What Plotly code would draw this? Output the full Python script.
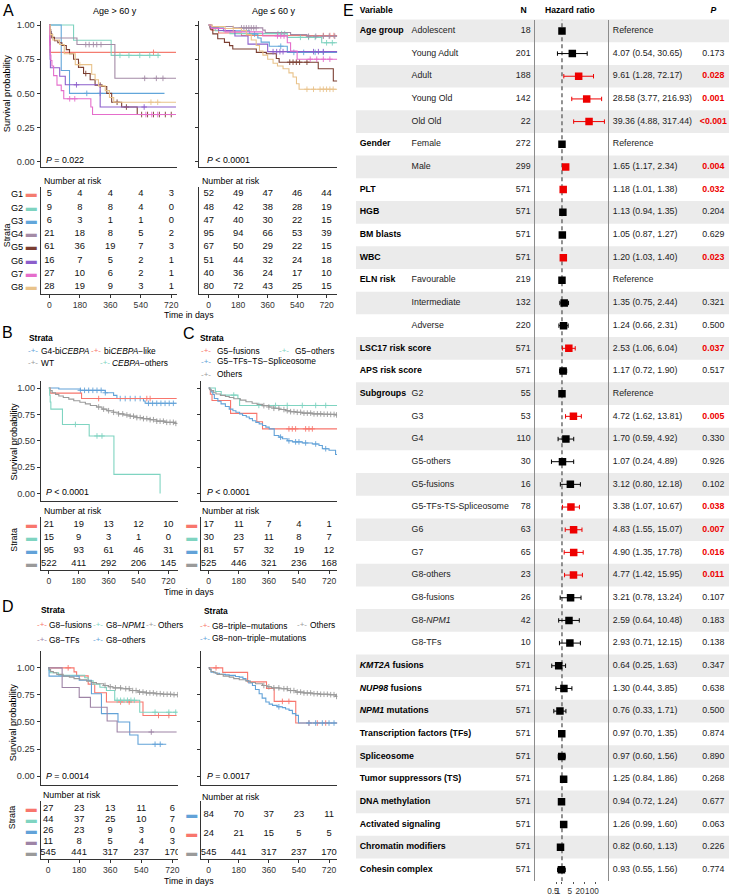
import plotly.graph_objects as go

W, H = 731, 896
FONT = "Liberation Sans, Arial, Helvetica, sans-serif"

# ======================= DATA =======================
DAYS = [0, 180, 360, 540, 720]

# ---- Panel A, Age > 60 y : step times (days), survival after step, end of follow-up, censor times
A_old = {
    "G1": dict(t=[5], s=[0.80], end=748, cens=[615]),
    "G2": dict(t=[143, 365], s=[0.889, 0.778], end=652, cens=[417, 470, 534, 593, 642]),
    "G3": dict(t=[70, 119], s=[0.667, 0.50], end=680, cens=[221, 300]),
    "G4": dict(t=[5, 12, 163, 387], s=[0.952, 0.905, 0.857, 0.61], end=748,
               cens=[215, 235, 260, 280, 305, 563, 632, 671]),
    "G5": dict(t=[3, 8, 16, 30, 50, 74, 100, 119, 143, 172, 202, 241, 270, 309, 339, 368, 427, 519],
               s=[0.967, 0.934, 0.91, 0.885, 0.87, 0.85, 0.82, 0.79, 0.75, 0.69, 0.645, 0.60, 0.56, 0.55,
                  0.50, 0.435, 0.40, 0.345], end=748,
               cens=[215, 300, 400, 455, 545, 580, 615, 650, 685, 720]),
    "G6": dict(t=[2, 4, 6, 61, 94, 300], s=[0.875, 0.75, 0.6875, 0.625, 0.5625, 0.40], end=748,
               cens=[160, 560]),
    "G7": dict(t=[2, 5, 9, 15, 25, 45, 70, 85, 245, 255],
               s=[0.85, 0.78, 0.74, 0.70, 0.63, 0.56, 0.52, 0.46, 0.40, 0.345], end=748,
               cens=[120, 150, 570, 605, 640]),
    "G8": dict(t=[5, 20, 60, 88, 153, 250, 270, 290, 330, 355, 380],
               s=[0.93, 0.89, 0.857, 0.79, 0.71, 0.64, 0.60, 0.555, 0.52, 0.47, 0.435], end=748,
               cens=[180, 600, 640]),
}
A_old_risk = {"G1": [5, 4, 4, 4, 3], "G2": [9, 8, 8, 4, 0], "G3": [6, 3, 1, 1, 0], "G4": [21, 18, 8, 5, 2],
              "G5": [61, 36, 19, 7, 3], "G6": [16, 7, 5, 2, 1], "G7": [27, 10, 6, 2, 1], "G8": [28, 19, 9, 3, 1]}

# ---- Panel A, Age <= 60 y
A_young = {
    "G1": dict(t=[5, 15, 60, 200], s=[0.981, 0.962, 0.942, 0.923], end=790, cens=[700, 740, 765]),
    "G2": dict(t=[8, 40, 130, 480, 690], s=[0.979, 0.958, 0.937, 0.91, 0.87], end=790,
               cens=[423, 445, 464, 560, 610, 650, 720, 755]),
    "G3": dict(t=[15, 90, 250, 300, 320, 370, 480], s=[0.979, 0.957, 0.934, 0.905, 0.875, 0.845, 0.80],
               end=790, cens=[280, 440, 520, 580, 650, 700]),
    "G4": dict(t=[20, 150, 330, 345, 500, 600], s=[0.989, 0.979, 0.963, 0.945, 0.93, 0.918], end=790,
               cens=[200, 215, 230, 245, 260, 275, 290, 610, 654, 700, 736, 770]),
    "G5": dict(t=[10, 25, 55, 96, 127, 147, 291, 352, 413, 430, 669, 761],
               s=[0.97, 0.935, 0.90, 0.873, 0.849, 0.825, 0.80, 0.79, 0.755, 0.728, 0.68, 0.59], end=790,
               cens=[495, 515, 535, 555, 600]),
    "G6": dict(t=[10, 60, 160, 240, 360], s=[0.98, 0.96, 0.92, 0.86, 0.805], end=790,
               cens=[393, 415, 435, 454, 640, 670, 700]),
    "G7": dict(t=[15, 100, 330, 480, 500, 540], s=[0.975, 0.95, 0.92, 0.87, 0.81, 0.75], end=790,
               cens=[420, 440, 460, 620, 660, 700, 740]),
    "G8": dict(t=[20, 100, 200, 230, 260, 290, 310, 331, 360, 393, 420, 454, 490, 515, 536, 552],
               s=[0.988, 0.975, 0.96, 0.93, 0.89, 0.85, 0.81, 0.78, 0.75, 0.72, 0.70, 0.68, 0.65, 0.62,
                  0.57, 0.53], end=790, cens=[150, 600, 640, 680, 700, 720, 740, 760]),
}
A_young_risk = {"G1": [52, 49, 47, 46, 44], "G2": [48, 42, 38, 28, 19], "G3": [47, 40, 30, 22, 15],
                "G4": [95, 94, 66, 53, 39], "G5": [67, 50, 29, 22, 15], "G6": [51, 44, 32, 24, 18],
                "G7": [40, 36, 24, 17, 10], "G8": [80, 72, 43, 25, 15]}

# ---- Panel B (CEBPA strata)
B_km = {
    "G4-biCEBPA": dict(t=[60, 190, 340, 390, 410, 570, 580], s=[0.99, 0.978, 0.955, 0.93, 0.90, 0.877, 0.855],
                       end=770, cens=[190, 215, 240, 265, 290, 315, 340, 430, 460, 490, 520, 550, 600, 625,
                                      650, 675, 700, 725, 750]),
    "biCEBPA-like": dict(t=[8, 197], s=[0.952, 0.90], end=770, cens=[300, 590, 610]),
    "WT": dict(t=[6, 20, 40, 60, 87, 120, 150, 187, 220, 250, 288, 320, 350, 388, 420, 450, 489, 530, 569,
                  610, 650, 700, 760],
               s=[0.975, 0.955, 0.94, 0.925, 0.91, 0.895, 0.88, 0.865, 0.85, 0.835, 0.82, 0.80, 0.785, 0.77,
                  0.755, 0.745, 0.733, 0.72, 0.71, 0.70, 0.686, 0.675, 0.665], end=770,
               cens=[300, 330, 360, 390, 420, 445, 470, 490, 510, 530, 550, 570, 590, 610, 630, 650, 670,
                     690, 710, 730, 750, 765]),
    "CEBPA-others": dict(t=[5, 8, 12, 82, 243, 392, 670], s=[0.933, 0.867, 0.80, 0.655, 0.546, 0.182, 0.0],
                         end=670, cens=[160, 290, 320]),
}
B_risk_order = ["biCEBPA-like", "CEBPA-others", "G4-biCEBPA", "WT"]
B_risk = {"biCEBPA-like": [21, 19, 13, 12, 10], "CEBPA-others": [15, 9, 3, 1, 0],
          "G4-biCEBPA": [95, 93, 61, 46, 31], "WT": [522, 411, 292, 206, 145]}

# ---- Panel C (G5 strata)
C_km = {
    "G5-fusions": dict(t=[10, 20, 131, 288, 322], s=[0.941, 0.882, 0.76, 0.68, 0.613], end=768,
                       cens=[480, 500, 520, 580, 600, 620]),
    "G5-others": dict(t=[40, 75, 175, 185], s=[0.967, 0.933, 0.90, 0.835], end=768,
                      cens=[150, 300, 400, 470, 560, 640, 700]),
    "G5-TFs-TS-Spliceosome": dict(
        t=[5, 14, 25, 34, 55, 74, 100, 123, 145, 163, 185, 203, 225, 243, 262, 282, 302, 322, 342, 362,
           392, 420, 441, 470, 501, 560, 620, 660, 680, 720, 759],
        s=[0.988, 0.963, 0.938, 0.90, 0.875, 0.85, 0.825, 0.80, 0.785, 0.77, 0.755, 0.74, 0.725, 0.71, 0.69,
           0.675, 0.66, 0.645, 0.63, 0.613, 0.55, 0.535, 0.52, 0.50, 0.49, 0.48, 0.47, 0.456, 0.425, 0.41,
           0.37], end=768, cens=[430, 480, 520, 540, 580, 640, 700]),
    "Others": dict(t=[5, 14, 30, 44, 70, 100, 123, 150, 190, 223, 260, 290, 322, 360, 390, 421, 460, 490,
                      521, 560, 620, 680, 720, 760],
                   s=[0.985, 0.975, 0.955, 0.943, 0.93, 0.92, 0.91, 0.898, 0.885, 0.87, 0.855, 0.845, 0.833,
                      0.82, 0.808, 0.796, 0.785, 0.776, 0.77, 0.762, 0.755, 0.752, 0.75, 0.745], end=768,
                   cens=[330, 360, 390, 420, 450, 470, 490, 510, 530, 550, 570, 590, 610, 630, 650, 670,
                         690, 710, 730, 750, 765]),
}
C_risk_order = ["G5-fusions", "G5-others", "G5-TFs-TS-Spliceosome", "Others"]
C_risk = {"G5-fusions": [17, 11, 7, 4, 1], "G5-others": [30, 23, 11, 8, 7],
          "G5-TFs-TS-Spliceosome": [81, 57, 32, 19, 12], "Others": [525, 446, 321, 236, 168]}

# ---- Panel D (G8 strata) – "Others" is the same group in both plots
D_others = dict(t=[5, 14, 30, 50, 87, 123, 150, 183, 223, 250, 280, 322, 350, 376, 421, 473, 521, 569, 620,
                   666, 720, 760],
                s=[0.985, 0.966, 0.955, 0.94, 0.923, 0.914, 0.90, 0.89, 0.877, 0.865, 0.853, 0.837, 0.825,
                   0.815, 0.807, 0.79, 0.776, 0.768, 0.761, 0.756, 0.752, 0.736], end=770,
                cens=[330, 360, 390, 420, 450, 470, 490, 510, 530, 550, 570, 590, 610, 630, 650, 670, 690,
                      710, 730, 750, 765])
D1_km = {
    "G8-fusions": dict(t=[150, 165, 232, 270, 338, 550], s=[0.963, 0.926, 0.85, 0.77, 0.685, 0.56], end=745,
                       cens=[116, 420, 470, 640, 700]),
    "G8-NPM1": dict(t=[5, 10, 60, 212, 232, 261, 300, 338, 386, 531],
                    s=[0.977, 0.955, 0.932, 0.909, 0.88, 0.85, 0.82, 0.79, 0.70, 0.59], end=745,
                    cens=[400, 420, 440, 460, 480, 500, 620, 700, 740]),
    "G8-others": dict(t=[5, 180, 251, 309, 405, 473, 521], s=[0.923, 0.885, 0.76, 0.577, 0.50, 0.38, 0.294],
                      end=685, cens=[620, 650]),
    "G8-TFs": dict(t=[81, 180, 245, 342, 400], s=[0.818, 0.727, 0.636, 0.509, 0.407], end=745, cens=[598]),
    "Others": D_others,
}
D1_risk_order = ["G8-fusions", "G8-NPM1", "G8-others", "G8-TFs", "Others"]
D1_risk = {"G8-fusions": [27, 23, 13, 11, 6], "G8-NPM1": [44, 37, 25, 10, 7], "G8-others": [26, 23, 9, 3, 0],
           "G8-TFs": [11, 8, 5, 4, 3], "Others": [545, 441, 317, 237, 170]}

D2_km = {
    "G8-triple-mutations": dict(t=[84, 233, 346, 392, 521], s=[0.958, 0.87, 0.81, 0.69, 0.49], end=770,
                                cens=[44, 441, 480, 600, 650, 700]),
    "G8-non-triple-mutations": dict(
        t=[5, 14, 40, 64, 100, 123, 160, 183, 205, 223, 240, 262, 280, 302, 320, 342, 362, 382, 410, 441,
           460, 481, 501, 521, 537],
        s=[0.988, 0.96, 0.95, 0.94, 0.935, 0.93, 0.92, 0.914, 0.90, 0.883, 0.86, 0.837, 0.80, 0.76, 0.72,
           0.684, 0.665, 0.653, 0.64, 0.632, 0.62, 0.607, 0.577, 0.561, 0.49], end=770,
        cens=[420, 600, 640, 680, 720, 750]),
    "Others": D_others,
}
D2_risk_order = ["G8-non-triple-mutations", "G8-triple-mutations", "Others"]
D2_risk = {"G8-non-triple-mutations": [84, 70, 37, 23, 11], "G8-triple-mutations": [24, 21, 15, 5, 5],
           "Others": [545, 441, 317, 237, 170]}

P_VALUES = {"A1": "= 0.022", "A2": "&lt; 0.0001", "B": "&lt; 0.0001", "C": "&lt; 0.0001",
            "D1": "= 0.0014", "D2": "= 0.0017"}

# ---- Panel E: multivariable Cox model (forest plot)
fp_var = ["Age group", "", "", "", "", "Gender", "", "PLT", "HGB", "BM blasts", "WBC", "ELN risk", "", "",
          "LSC17 risk score", "APS risk score", "Subgroups", "", "", "", "", "", "", "", "", "", "", "",
          "<i>KMT2A</i> fusions", "<i>NUP98</i> fusions", "<i>NPM1</i> mutations",
          "Transcription factors (TFs)", "Spliceosome", "Tumor suppressors (TS)", "DNA methylation",
          "Activated signaling", "Chromatin modifiers", "Cohesin complex"]
fp_level = ["Adolescent", "Young Adult", "Adult", "Young Old", "Old Old", "Female", "Male", "", "", "", "",
            "Favourable", "Intermediate", "Adverse", "", "", "G2", "G3", "G4", "G5-others", "G5-fusions",
            "G5-TFs-TS-Spliceosome", "G6", "G7", "G8-others", "G8-fusions", "G8-<i>NPM1</i>", "G8-TFs",
            "", "", "", "", "", "", "", "", "", ""]
fp_n = [18, 201, 188, 142, 22, 272, 299, 571, 571, 571, 571, 219, 132, 220, 571, 571, 55, 53, 110, 30, 16,
        78, 63, 65, 23, 26, 42, 10, 571, 571, 571, 571, 571, 571, 571, 571, 571, 571]
fp_hr = [None, 4.07, 9.61, 28.58, 39.36, None, 1.65, 1.18, 1.13, 1.05, 1.20, None, 1.35, 1.24, 2.53, 1.17,
         None, 4.72, 1.70, 1.07, 3.12, 3.38, 4.83, 4.90, 4.77, 3.21, 2.59, 2.93, 0.64, 1.30, 0.76, 0.97,
         0.97, 1.25, 0.94, 1.26, 0.82, 0.93]
fp_lo = [None, 0.54, 1.28, 3.77, 4.88, None, 1.17, 1.01, 0.94, 0.87, 1.03, None, 0.75, 0.66, 1.06, 0.72,
         None, 1.62, 0.59, 0.24, 0.80, 1.07, 1.55, 1.35, 1.42, 0.78, 0.64, 0.71, 0.25, 0.44, 0.33, 0.70,
         0.60, 0.84, 0.72, 0.99, 0.60, 0.55]
fp_hi = [None, 30.65, 72.17, 216.93, 317.44, None, 2.34, 1.38, 1.35, 1.27, 1.40, None, 2.44, 2.31, 6.04,
         1.90, None, 13.81, 4.92, 4.89, 12.18, 10.67, 15.07, 17.78, 15.95, 13.24, 10.48, 12.15, 1.63, 3.85,
         1.71, 1.35, 1.56, 1.86, 1.24, 1.60, 1.13, 1.56]
fp_p = [None, "0.173", "0.028", "0.001", "<0.001", None, "0.004", "0.032", "0.204", "0.629", "0.023", None,
        "0.321", "0.500", "0.037", "0.517", None, "0.005", "0.330", "0.926", "0.102", "0.038", "0.007",
        "0.016", "0.011", "0.107", "0.183", "0.138", "0.347", "0.638", "0.500", "0.874", "0.890", "0.268",
        "0.677", "0.063", "0.226", "0.774"]
HR_TICKS = [0.5, 1, 5, 20, 100]

# ======================= STYLE =======================
COL_A = {"G1": "#F47C70", "G2": "#7FD3C0", "G3": "#62A6DA", "G4": "#A48BA6", "G5": "#7B3E31",
         "G6": "#8C5ECB", "G7": "#E56DCB", "G8": "#E9C38B"}
RED, TEAL, BLUE, GREY, MAUVE = "#F8766D", "#7FD4C1", "#62A2D8", "#9A9A9A", "#9E84A6"
COL_B = {"G4-biCEBPA": BLUE, "biCEBPA-like": RED, "WT": GREY, "CEBPA-others": TEAL}
COL_C = {"G5-fusions": RED, "G5-others": TEAL, "G5-TFs-TS-Spliceosome": BLUE, "Others": GREY}
COL_D1 = {"G8-fusions": RED, "G8-NPM1": TEAL, "G8-others": BLUE, "G8-TFs": MAUVE, "Others": GREY}
COL_D2 = {"G8-triple-mutations": RED, "G8-non-triple-mutations": BLUE, "Others": GREY}
SIG_RED = "#EE0000"
AXC = "#333333"
LEG = 8.4

fig = go.Figure()
layout = dict(width=W, height=H, margin=dict(l=0, r=0, t=0, b=0), paper_bgcolor="white",
              plot_bgcolor="rgba(0,0,0,0)", font=dict(family=FONT, size=9, color="black"),
              showlegend=False)
annotations = []


def xd(a, b):
    return [a / W, b / W]


def yd(top, bottom):
    return [1 - bottom / H, 1 - top / H]


def aname(n, k):
    return f"{k}axis" if n == 1 else f"{k}axis{n}"


def aref(n, k):
    return k if n == 1 else f"{k}{n}"


def ann(text, x, y, size=8.8, xanchor="left", color="black", angle=0, yanchor="middle"):
    annotations.append(dict(text=text, x=x / W, y=1 - y / H, xref="paper", yref="paper", showarrow=False,
                            xanchor=xanchor, yanchor=yanchor, textangle=angle,
                            font=dict(size=size, color=color, family=FONT), borderpad=0))


def step_value(t, s, c):
    v = 1.0
    for ti, si in zip(t, s):
        if ti <= c:
            v = si
    return v


def km_plot(n, data, colors, xdom, ydom, xr, yr, ylabels):
    layout[aname(n, "x")] = dict(domain=xd(*xdom), range=list(xr), anchor=aref(n, "y"), showline=True,
                                 linecolor=AXC, linewidth=1, ticks="", showticklabels=False,
                                 showgrid=False, zeroline=False)
    layout[aname(n, "y")] = dict(domain=yd(*ydom), range=list(yr), anchor=aref(n, "x"), showline=True,
                                 linecolor=AXC, linewidth=1, ticks="outside", ticklen=3, tickcolor=AXC,
                                 tickvals=[0, 0.25, 0.5, 0.75, 1.0],
                                 ticktext=["0.00", "0.25", "0.50", "0.75", "1.00"],
                                 showticklabels=ylabels, tickfont=dict(size=9.2, color=AXC),
                                 showgrid=False, zeroline=False)
    for g, d in data.items():
        x = [0] + d["t"] + [d["end"]]
        y = [1] + d["s"] + [d["s"][-1]]
        fig.add_trace(go.Scatter(x=x, y=y, mode="lines", line=dict(color=colors[g], width=1.1, shape="hv"),
                                 xaxis=aref(n, "x"), yaxis=aref(n, "y"), hoverinfo="skip"))
        cy = [step_value(d["t"], d["s"], c) for c in d["cens"]]
        fig.add_trace(go.Scatter(x=d["cens"], y=cy, mode="markers",
                                 marker=dict(symbol="cross-thin", size=4,
                                             line=dict(color=colors[g], width=0.9)),
                                 xaxis=aref(n, "x"), yaxis=aref(n, "y"), hoverinfo="skip"))


def risk_table(n, order, risk, colors, xdom, ydom, row0, sp, xr, labels):
    top = (ydom[0] - row0) / sp
    bot = (ydom[1] - row0) / sp
    rows = list(range(len(order)))
    if labels:
        tt = [f"{g} <span style='color:{colors[g]};font-size:11px'>▬</span>" for g in order]
    else:
        tt = [f"<span style='color:{colors[g]};font-size:11px'>▬</span>" for g in order]
    layout[aname(n, "x")] = dict(domain=xd(*xdom), range=list(xr), anchor=aref(n, "y"), showline=True,
                                 linecolor=AXC, linewidth=1, ticks="outside", ticklen=3, tickcolor=AXC,
                                 tickvals=DAYS, tickfont=dict(size=8.6, color=AXC), showgrid=False,
                                 zeroline=False)
    layout[aname(n, "y")] = dict(domain=yd(*ydom), range=[bot, top], anchor=aref(n, "x"), showline=True,
                                 linecolor=AXC, linewidth=1, ticks="", tickvals=rows, ticktext=tt,
                                 tickfont=dict(size=9.2, color="black"), showgrid=False, zeroline=False,
                                 ticklabelstandoff=1)
    for i, g in enumerate(order):
        fig.add_trace(go.Scatter(x=DAYS, y=[i] * len(DAYS), mode="text", text=[str(v) for v in risk[g]],
                                 textfont=dict(size=9.4, color="#111111", family=FONT),
                                 xaxis=aref(n, "x"), yaxis=aref(n, "y"), hoverinfo="skip"))


# ---------------- Panel A ----------------
A1 = dict(xdom=(40.7, 177.5), xr=(-51.9, 754))
A2 = dict(xdom=(200, 338), xr=(-56.6, 784))
A_ydom, A_yr = (20, 166.7), (-0.04, 1.03)
km_plot(1, A_old, COL_A, A1["xdom"], A_ydom, A1["xr"], A_yr, True)
km_plot(2, A_young, COL_A, A2["xdom"], A_ydom, A2["xr"], A_yr, False)
A_order = list(A_old_risk.keys())
risk_table(3, A_order, A_old_risk, COL_A, A1["xdom"], (187, 294), 193.7, 13.29, A1["xr"], True)
risk_table(4, A_order, A_young_risk, COL_A, A2["xdom"], (187, 294), 193.7, 13.29, A2["xr"], False)
layout["yaxis4"]["showticklabels"] = False

ann("A", 2.5, 10, size=16)
ann("Age &gt; 60 y", 115, 10, size=9, xanchor="center")
ann("Age ≤ 60 y", 274, 10, size=9, xanchor="center")
ann("Survival probability", 7, 92.5, size=9.2, xanchor="center", angle=-90)
ann(f"<i>P</i> {P_VALUES['A1']}", 45, 159.5, size=8.8)
ann(f"<i>P</i> {P_VALUES['A2']}", 206.5, 159.5, size=8.8)
ann("Number at risk", 43, 181, size=8.8)
ann("Number at risk", 201.7, 181, size=8.8)
ann("Strata", 7, 235, size=8.8, xanchor="center", angle=-90)
ann("Time in days", 190, 315, size=8.8, xanchor="center")

# ---------------- Panels B and C ----------------
BC_ydom, BC_yr = (381, 501.7), (-0.07, 1.069)
Bp = dict(xdom=(41, 178), xr=(-48, 775))
Cp = dict(xdom=(201.7, 338), xr=(-45, 768))
km_plot(5, B_km, COL_B, Bp["xdom"], BC_ydom, Bp["xr"], BC_yr, True)
km_plot(6, C_km, COL_C, Cp["xdom"], BC_ydom, Cp["xr"], BC_yr, False)
risk_table(7, B_risk_order, B_risk, COL_B, Bp["xdom"], (518, 571), 525.7, 13.1, Bp["xr"], False)
risk_table(8, C_risk_order, C_risk, COL_C, Cp["xdom"], (518, 571), 525.7, 13.1, Cp["xr"], False)

ann("B", 1.5, 333, size=16)
ann("C", 182.5, 334, size=16)
ann("<b>Strata</b>", 28, 338, size=LEG)
ann("<b>Strata</b>", 200, 338, size=LEG)


def key(x, y, color):
    ann("-+-", x, y, size=8, xanchor="center", color=color)


key(33, 350.7, BLUE); ann("G4-bi<i>CEBPA</i>", 40, 350.7, size=LEG)
key(96.7, 350.7, RED); ann("bi<i>CEBPA</i>−like", 103.3, 350.7, size=LEG)
key(33, 363, GREY); ann("WT", 40, 363, size=LEG)
key(105, 363, TEAL); ann("<i>CEBPA</i>−others", 111.7, 363, size=LEG)
key(207, 350.7, RED); ann("G5−fusions", 216.7, 350.7, size=LEG)
key(285, 350.7, TEAL); ann("G5−others", 295, 350.7, size=LEG)
key(207, 361.7, BLUE); ann("G5−TFs−TS−Spliceosome", 216.7, 361.7, size=LEG)
key(207, 374.3, GREY); ann("Others", 216.7, 374.3, size=LEG)

ann("Survival probability", 14, 442, size=9.2, xanchor="center", angle=-90)
ann(f"<i>P</i> {P_VALUES['B']}", 45.3, 492.7, size=8.8)
ann(f"<i>P</i> {P_VALUES['C']}", 206.5, 492.7, size=8.8)
ann("Number at risk", 42.7, 511.7, size=8.8)
ann("Number at risk", 202, 511.7, size=8.8)
ann("Strata", 14.5, 540, size=8.8, xanchor="center", angle=-90)
ann("Time in days", 190, 593, size=8.8, xanchor="center")

# ---------------- Panel D ----------------
D_ydom, D_yr = (651.7, 786.7), (-0.083, 1.16)
D1p = dict(xdom=(40.7, 178.3), xr=(-44, 752))
D2p = dict(xdom=(201.7, 338.3), xr=(-45, 770))
km_plot(9, D1_km, COL_D1, D1p["xdom"], D_ydom, D1p["xr"], D_yr, True)
km_plot(10, D2_km, COL_D2, D2p["xdom"], D_ydom, D2p["xr"], D_yr, False)
risk_table(11, D1_risk_order, D1_risk, COL_D1, D1p["xdom"], (803, 860.7), 810, 11.25, D1p["xr"], False)
risk_table(12, D2_risk_order, D2_risk, COL_D2, D2p["xdom"], (803, 860.7), 816.7, 18.8, D2p["xr"], False)

ann("D", 1.5, 608, size=16)
ann("<b>Strata</b>", 40, 610.7, size=LEG)
ann("<b>Strata</b>", 203.3, 612, size=LEG)
key(41.7, 626, RED); ann("G8−fusions", 48, 626, size=LEG)
key(98.3, 626, TEAL); ann("G8−<i>NPM1</i>", 105, 626, size=LEG)
key(151, 626, GREY); ann("Others", 157.5, 626, size=LEG)
key(41.7, 640.7, MAUVE); ann("G8−TFs", 48, 640.7, size=LEG)
key(98.3, 640.7, BLUE); ann("G8−others", 105, 640.7, size=LEG)
key(205.7, 627, RED); ann("G8−triple−mutations", 211.7, 627, size=LEG)
key(303, 625.7, GREY); ann("Others", 310, 625.7, size=LEG)
key(205.7, 639.3, BLUE); ann("G8−non−triple−mutations", 211.7, 639.3, size=LEG)

ann("Survival probability", 12.7, 724, size=9.2, xanchor="center", angle=-90)
ann(f"<i>P</i> {P_VALUES['D1']}", 45, 777.7, size=8.8)
ann(f"<i>P</i> {P_VALUES['D2']}", 206.5, 777.7, size=8.8)
ann("Number at risk", 42, 796.7, size=8.8)
ann("Number at risk", 202, 798.7, size=8.8)
ann("Strata", 12, 819, size=8.8, xanchor="center", angle=-90)
ann("Time in days", 190, 882.5, size=8.8, xanchor="center")

# ---------------- Panel E (forest) ----------------
ROW0, ROWSP = 30.0, 22.75
NROW = len(fp_n)
E_bottom = ROW0 + ROWSP * (NROW - 1) + ROWSP / 2
E_x0 = 357.0
bg_top = (0 - ROW0) / ROWSP
bg_bot = (E_bottom - ROW0) / ROWSP
layout["xaxis13"] = dict(domain=xd(E_x0, W), range=[E_x0, W], anchor="y13", visible=False)
layout["yaxis13"] = dict(domain=yd(0, E_bottom), range=[bg_bot, bg_top], anchor="x13", visible=False)
fp_top = (ROW0 - ROWSP / 2 - ROW0) / ROWSP
layout["xaxis14"] = dict(domain=xd(536.7, 609.3), type="log", range=[-1.576, 2.69], anchor="y14",
                         showline=False, ticks="outside", ticklen=2, tickcolor="#555555", tickvals=HR_TICKS,
                         ticktext=[str(v) for v in HR_TICKS], tickfont=dict(size=8.2, color=AXC),
                         tickangle=0, ticklabelshift=-4, ticklabeloverflow="allow",
                         showgrid=False, zeroline=False)
layout["yaxis14"] = dict(domain=yd(ROW0 - ROWSP / 2, E_bottom), range=[bg_bot, fp_top], anchor="x14",
                         showline=True, mirror=True, linecolor="#8C8C8C", linewidth=1.6, ticks="",
                         showticklabels=False, showgrid=False, zeroline=False)

rows = list(range(NROW))
even_rows = rows[0::2]
fig.add_trace(go.Bar(y=even_rows, x=[W - E_x0] * len(even_rows), base=E_x0, orientation="h", width=1.0,
                     marker=dict(color="#EBEBEB", line=dict(width=0)), xaxis="x13", yaxis="y13",
                     hoverinfo="skip"))

# header
hdr_y = (10 - ROW0) / ROWSP
fig.add_trace(go.Scatter(x=[360.7], y=[hdr_y], mode="text", text=["<b>Variable</b>"],
                         textposition="middle right", textfont=dict(size=8.6, family=FONT),
                         xaxis="x13", yaxis="y13", hoverinfo="skip"))
fig.add_trace(go.Scatter(x=[525, 571.5, 715.3], y=[hdr_y] * 3, mode="text",
                         text=["<b>N</b>", "<b>Hazard ratio</b>", "<b><i>P</i></b>"],
                         textposition="middle center", textfont=dict(size=8.6, family=FONT),
                         xaxis="x13", yaxis="y13", hoverinfo="skip"))

# text columns
fig.add_trace(go.Scatter(x=[360.7] * NROW, y=rows, mode="text",
                         text=[f"<b>{v}</b>" if v else "" for v in fp_var], textposition="middle right",
                         textfont=dict(size=8.8, family=FONT), xaxis="x13", yaxis="y13", hoverinfo="skip"))
fig.add_trace(go.Scatter(x=[412.7] * NROW, y=rows, mode="text", text=fp_level, textposition="middle right",
                         textfont=dict(size=8.8, family=FONT, color="#222222"), xaxis="x13", yaxis="y13",
                         hoverinfo="skip"))
fig.add_trace(go.Scatter(x=[532.0] * NROW, y=rows, mode="text", text=[str(v) for v in fp_n],
                         textposition="middle left", textfont=dict(size=8.8, family=FONT, color="#222222"),
                         xaxis="x13", yaxis="y13", hoverinfo="skip"))


def is_sig(p):
    return p is not None and (p.startswith("<") or float(p) < 0.05)


hr_txt = ["Reference" if h is None else f"{h:.2f} ({l:.2f}, {u:.2f})" for h, l, u in zip(fp_hr, fp_lo, fp_hi)]
fig.add_trace(go.Scatter(x=[614.5] * NROW, y=rows, mode="text", text=hr_txt, textposition="middle right",
                         textfont=dict(size=8.8, family=FONT, color="#222222"), xaxis="x13", yaxis="y13",
                         hoverinfo="skip"))
p_txt, p_col = [], []
for p in fp_p:
    if p is None:
        p_txt.append("")
        p_col.append("black")
    elif is_sig(p):
        p_txt.append("<b>" + p.replace("<", "&lt;") + "</b>")
        p_col.append(SIG_RED)
    else:
        p_txt.append(p)
        p_col.append("#222222")
fig.add_trace(go.Scatter(x=[715.3] * NROW, y=rows, mode="text", text=p_txt, textposition="middle center",
                         textfont=dict(size=8.8, family=FONT, color=p_col), xaxis="x13", yaxis="y13",
                         hoverinfo="skip"))

# reference line at HR = 1
fig.add_trace(go.Scatter(x=[1, 1], y=[bg_bot, fp_top], mode="lines",
                         line=dict(color="#6E6E6E", width=1.5, dash="4px,3px"), xaxis="x14", yaxis="y14",
                         hoverinfo="skip"))

# reference rows
ref_rows = [i for i in rows if fp_hr[i] is None]
fig.add_trace(go.Scatter(x=[1] * len(ref_rows), y=ref_rows, mode="markers",
                         marker=dict(symbol="square", size=7.5, color="black"), xaxis="x14", yaxis="y14",
                         hoverinfo="skip"))
for sig, col in [(False, "black"), (True, SIG_RED)]:
    idx = [i for i in rows if fp_hr[i] is not None and is_sig(fp_p[i]) == sig]
    fig.add_trace(go.Scatter(
        x=[fp_hr[i] for i in idx], y=idx, mode="markers",
        marker=dict(symbol="square", size=7.5, color=col),
        error_x=dict(type="data", symmetric=False, array=[fp_hi[i] - fp_hr[i] for i in idx],
                     arrayminus=[fp_hr[i] - fp_lo[i] for i in idx], color=col, thickness=1, width=2.2),
        xaxis="x14", yaxis="y14", hoverinfo="skip"))

ann("E", 343, 10, size=16)

layout["annotations"] = annotations
fig.update_layout(**layout)
fig.write_html("out.html", config={"displayModeBar": False, "staticPlot": True},
               post_script="document.body.style.margin='0';document.body.style.overflow='hidden';")
